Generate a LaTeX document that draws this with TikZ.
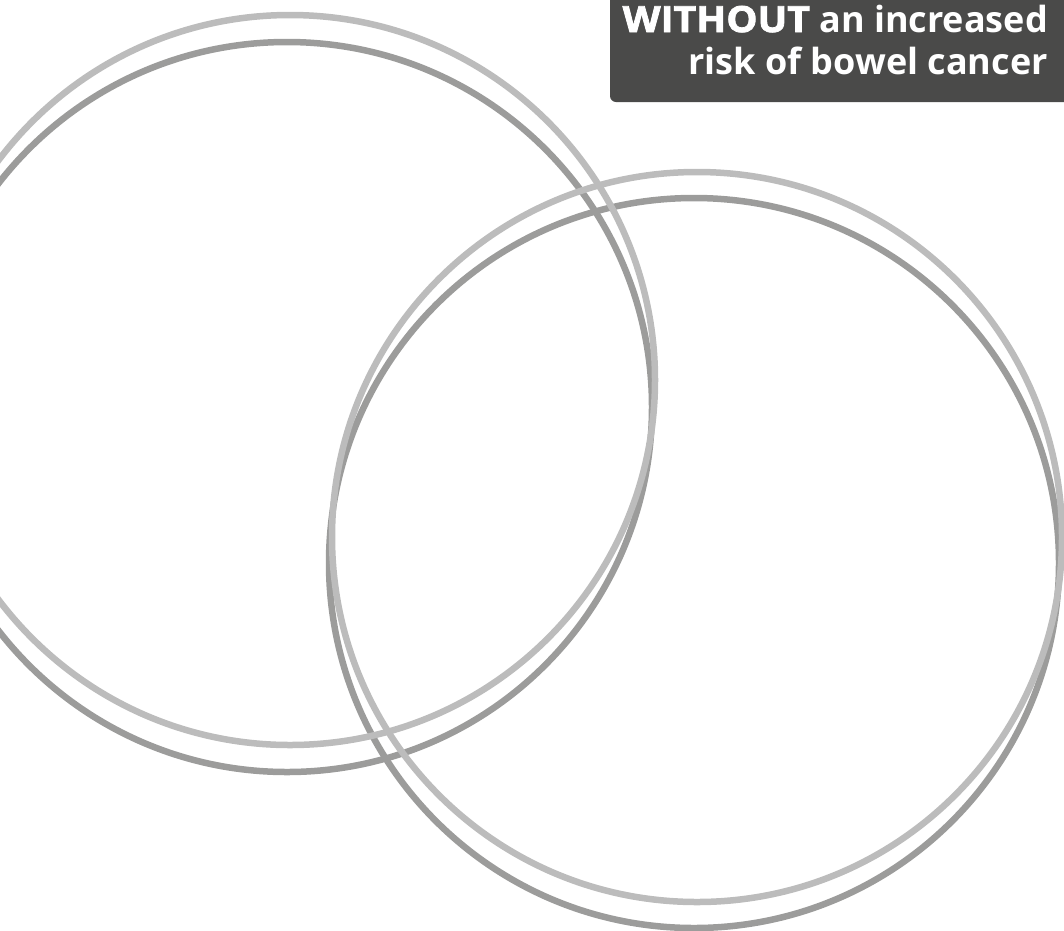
\documentclass[tikz,border=0pt]{standalone}
\usepackage{xcolor}
\usepackage{fontspec}
\usepackage{tikz}
\usetikzlibrary{positioning}
\newfontfamily\tagfont{Open Sans}
\newfontfamily\tagheavy{Open Sans}[FakeBold=2.2, FakeStretch=1.09]
\definecolor{ringlight}{HTML}{BCBCBC}
\definecolor{ringdark}{HTML}{9C9C9B}
\definecolor{taggray}{HTML}{4A4A49}

\begin{document}
\begin{tikzpicture}[x=1pt, y=-1pt,
        ring/.style={circle, draw, line width=6.5pt, minimum size=730pt, inner sep=0pt},
        tagline/.style={anchor=base east, inner sep=0pt, text=white, font=\tagfont\bfseries\fontsize{36}{42}\selectfont}]
        \useasboundingbox (0,0) rectangle (1064,930);

        % dark rings under the light ones
        \node[ring, draw=ringdark] (ldark) at (287,407) {};
        \node[ring, draw=ringdark] (rdark) at (694,563) {};
        \node[ring, draw=ringlight] (llight) at (290,380) {};
        \node[ring, draw=ringlight] (rlight) at (697,537) {};

        \fill[taggray, rounded corners=6pt] (610,-20) rectangle (1084,102);
        \node[tagline] (tagone) at (1048,32) {{\tagheavy\bfseries WITHOUT} an increased};
        \node[tagline] (tagtwo) at ([yshift=-42pt]tagone.base east) {risk of bowel cancer};

    \end{tikzpicture}
\end{document}
